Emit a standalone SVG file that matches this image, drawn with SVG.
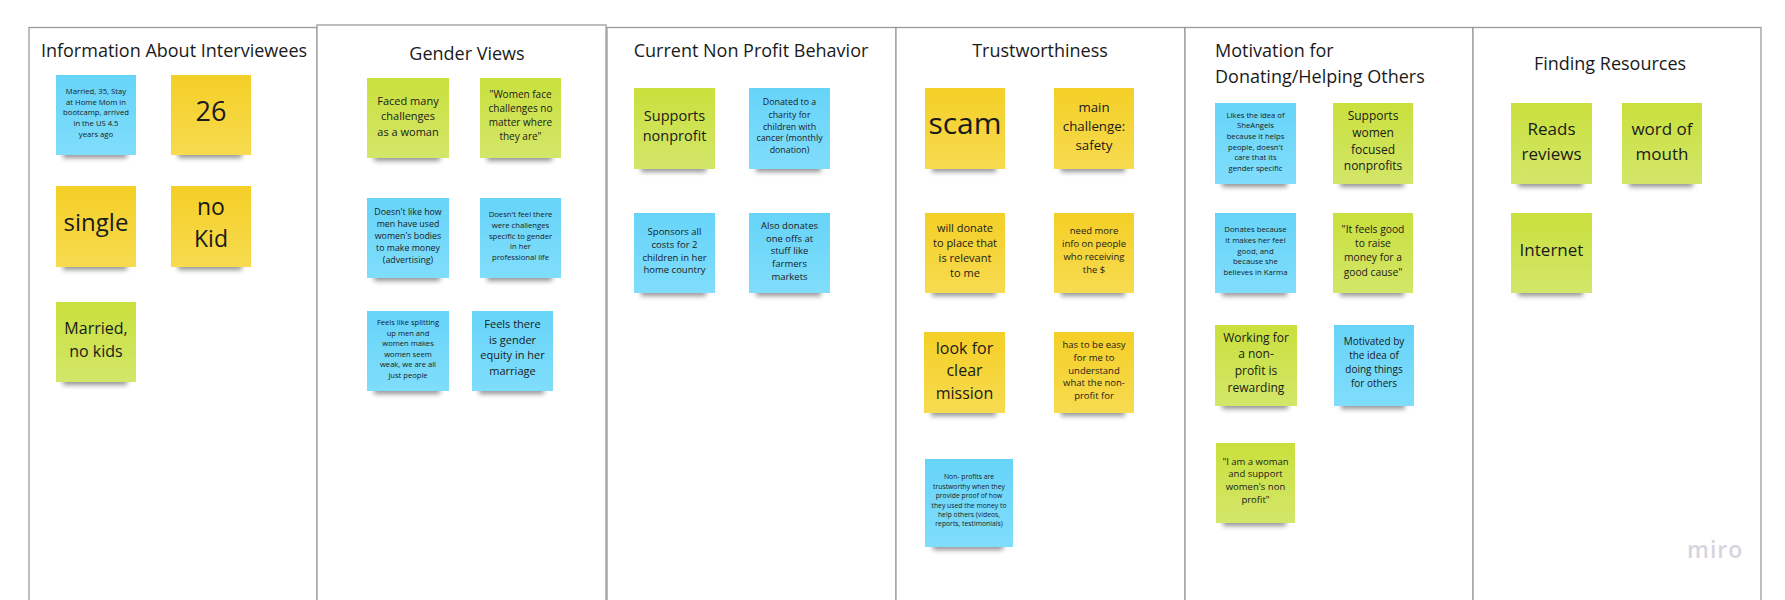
<svg xmlns="http://www.w3.org/2000/svg" width="1785" height="600" viewBox="0 0 1785 600">
  <defs>
    <linearGradient id="g-yellow" x1="0" y1="0" x2="0" y2="1">
      <stop offset="0" stop-color="#f4cf26"/>
      <stop offset="1" stop-color="#f7db50"/>
    </linearGradient>
    <linearGradient id="g-blue" x1="0" y1="0" x2="0" y2="1">
      <stop offset="0" stop-color="#66d4f9"/>
      <stop offset="1" stop-color="#80ddfb"/>
    </linearGradient>
    <linearGradient id="g-green" x1="0" y1="0" x2="0" y2="1">
      <stop offset="0" stop-color="#c9e03c"/>
      <stop offset="1" stop-color="#d3e66a"/>
    </linearGradient>
    <filter id="f-shadow" x="-20%" y="-100%" width="140%" height="300%">
      <feGaussianBlur stdDeviation="2.6"/>
    </filter>
  </defs>
  <style>
    .frame { fill: #ffffff; stroke: #9b9b9b; stroke-width: 1.3; }
    .title { font-family: "Open Sans", "Liberation Sans", sans-serif; font-size: 18px; fill: #1a1a1a; }
    .note text { font-family: "Open Sans", "Liberation Sans", sans-serif; fill: #1a1a1a; text-anchor: middle; }
    .sh { fill: #000000; opacity: 0.42; filter: url(#f-shadow); }
    .yellow { fill: url(#g-yellow); }
    .blue { fill: url(#g-blue); }
    .green { fill: url(#g-green); }
    .logo { font-family: "Open Sans", "Liberation Sans", sans-serif; font-size: 23px; font-weight: 600; fill: #d6d5df; letter-spacing: 1px; }
  </style>

  <rect width="1785" height="600" fill="#ffffff"/>

  <!-- frames -->
  <g id="frames">
    <rect class="frame" x="29" y="27.5" width="288" height="600"/>
    <rect class="frame" x="317" y="25" width="289" height="600"/>
    <rect class="frame" x="607" y="27.5" width="289" height="600"/>
    <rect class="frame" x="896" y="27.5" width="289" height="600"/>
    <rect class="frame" x="1185" y="27.5" width="288" height="600"/>
    <rect class="frame" x="1473" y="27.5" width="288" height="600"/>
  </g>

  <!-- frame titles -->
  <g id="titles">
    <text class="title" x="174" y="57" text-anchor="middle">Information About Interviewees</text>
    <text class="title" x="467" y="60" text-anchor="middle">Gender Views</text>
    <text class="title" x="751" y="57" text-anchor="middle">Current Non Profit Behavior</text>
    <text class="title" x="1040" y="57" text-anchor="middle">Trustworthiness</text>
    <text class="title" x="1215" y="57">Motivation for</text>
    <text class="title" x="1215" y="83">Donating/Helping Others</text>
    <text class="title" x="1610" y="70" text-anchor="middle" font-size="17">Finding Resources</text>
  </g>

  <!-- Information About Interviewees -->
  <g id="note-married-35" class="note" transform="translate(56,75)">
    <rect class="sh" x="7" y="75" width="64" height="8"/>
    <rect class="blue" width="80" height="80"/>
    <text font-size="7.7"><tspan x="40" y="19">Married, 35, Stay</tspan><tspan x="40" y="29.7">at Home Mom in</tspan><tspan x="40" y="40.4">bootcamp, arrived</tspan><tspan x="40" y="51.1">in the US 4.5</tspan><tspan x="40" y="61.8">years ago</tspan></text>
  </g>
  <g id="note-26" class="note" transform="translate(171,75)">
    <rect class="sh" x="7" y="75" width="64" height="8"/>
    <rect class="yellow" width="80" height="80"/>
    <text font-size="27"><tspan x="40" y="45.5">26</tspan></text>
  </g>
  <g id="note-single" class="note" transform="translate(56,186)">
    <rect class="sh" x="7" y="76" width="64" height="8"/>
    <rect class="yellow" width="80" height="81"/>
    <text font-size="24"><tspan x="40" y="44.5">single</tspan></text>
  </g>
  <g id="note-no-kid" class="note" transform="translate(171,186)">
    <rect class="sh" x="7" y="76" width="64" height="8"/>
    <rect class="yellow" width="80" height="81"/>
    <text font-size="23"><tspan x="40" y="29">no</tspan><tspan x="40" y="61.3">Kid</tspan></text>
  </g>
  <g id="note-married-no-kids" class="note" transform="translate(56,302)">
    <rect class="sh" x="7" y="75" width="64" height="8"/>
    <rect class="green" width="80" height="80"/>
    <text font-size="16"><tspan x="40" y="32">Married,</tspan><tspan x="40" y="55">no kids</tspan></text>
  </g>

  <!-- Gender Views -->
  <g id="note-faced-challenges" class="note" transform="translate(367,78)">
    <rect class="sh" x="7" y="75" width="66" height="8"/>
    <rect class="green" width="82" height="80"/>
    <text font-size="11"><tspan x="41" y="26.5">Faced many</tspan><tspan x="41" y="42">challenges</tspan><tspan x="41" y="57.5">as a woman</tspan></text>
  </g>
  <g id="note-women-face" class="note" transform="translate(480,78)">
    <rect class="sh" x="7" y="75" width="65" height="8"/>
    <rect class="green" width="81" height="80"/>
    <text font-size="10"><tspan x="40.5" y="20.3">"Women face</tspan><tspan x="40.5" y="34.3">challenges no</tspan><tspan x="40.5" y="48.3">matter where</tspan><tspan x="40.5" y="62.3">they are"</tspan></text>
  </g>
  <g id="note-bodies" class="note" transform="translate(367,198)">
    <rect class="sh" x="7" y="75" width="66" height="8"/>
    <rect class="blue" width="82" height="80"/>
    <text font-size="8.8"><tspan x="41" y="16.5">Doesn't like how</tspan><tspan x="41" y="28.5">men have used</tspan><tspan x="41" y="40.5">women's bodies</tspan><tspan x="41" y="52.5">to make money</tspan><tspan x="41" y="64.5">(advertising)</tspan></text>
  </g>
  <g id="note-no-gender-challenges" class="note" transform="translate(480,198)">
    <rect class="sh" x="7" y="75" width="65" height="8"/>
    <rect class="blue" width="81" height="80"/>
    <text font-size="7.7"><tspan x="40.5" y="19.3">Doesn't feel there</tspan><tspan x="40.5" y="30">were challenges</tspan><tspan x="40.5" y="40.7">specific to gender</tspan><tspan x="40.5" y="51.4">in her</tspan><tspan x="40.5" y="62.1">professional life</tspan></text>
  </g>
  <g id="note-splitting" class="note" transform="translate(367,311)">
    <rect class="sh" x="7" y="75" width="66" height="8"/>
    <rect class="blue" width="82" height="80"/>
    <text font-size="7.6"><tspan x="41" y="14">Feels like splitting</tspan><tspan x="41" y="24.6">up men and</tspan><tspan x="41" y="35.2">women makes</tspan><tspan x="41" y="45.8">women seem</tspan><tspan x="41" y="56.4">weak, we are all</tspan><tspan x="41" y="67">just people</tspan></text>
  </g>
  <g id="note-gender-equity" class="note" transform="translate(472,311)">
    <rect class="sh" x="7" y="75" width="65" height="8"/>
    <rect class="blue" width="81" height="80"/>
    <text font-size="11"><tspan x="40.5" y="17.3">Feels there</tspan><tspan x="40.5" y="32.8">is gender</tspan><tspan x="40.5" y="48.3">equity in her</tspan><tspan x="40.5" y="63.8">marriage</tspan></text>
  </g>

  <!-- Current Non Profit Behavior -->
  <g id="note-supports-nonprofit" class="note" transform="translate(634,88)">
    <rect class="sh" x="7" y="76" width="65" height="8"/>
    <rect class="green" width="81" height="81"/>
    <text font-size="14.5"><tspan x="40.5" y="33">Supports</tspan><tspan x="40.5" y="53">nonprofit</tspan></text>
  </g>
  <g id="note-donated-charity" class="note" transform="translate(749,88)">
    <rect class="sh" x="7" y="76" width="65" height="8"/>
    <rect class="blue" width="81" height="81"/>
    <text font-size="8.8"><tspan x="40.5" y="17.3">Donated to a</tspan><tspan x="40.5" y="29.5">charity for</tspan><tspan x="40.5" y="41.5">children with</tspan><tspan x="40.5" y="53.3">cancer (monthly</tspan><tspan x="40.5" y="65.3">donation)</tspan></text>
  </g>
  <g id="note-sponsors" class="note" transform="translate(634,213)">
    <rect class="sh" x="7" y="75" width="65" height="8"/>
    <rect class="blue" width="81" height="80"/>
    <text font-size="9.5"><tspan x="40.5" y="21.7">Sponsors all</tspan><tspan x="40.5" y="34.6">costs for 2</tspan><tspan x="40.5" y="47.5">children in her</tspan><tspan x="40.5" y="60.4">home country</tspan></text>
  </g>
  <g id="note-one-offs" class="note" transform="translate(749,213)">
    <rect class="sh" x="7" y="75" width="65" height="8"/>
    <rect class="blue" width="81" height="80"/>
    <text font-size="9.5"><tspan x="40.5" y="15.7">Also donates</tspan><tspan x="40.5" y="28.5">one offs at</tspan><tspan x="40.5" y="41.3">stuff like</tspan><tspan x="40.5" y="54.1">farmers</tspan><tspan x="40.5" y="66.9">markets</tspan></text>
  </g>

  <!-- Trustworthiness -->
  <g id="note-scam" class="note" transform="translate(925,88)">
    <rect class="sh" x="7" y="76" width="64" height="8"/>
    <rect class="yellow" width="80" height="81"/>
    <text font-size="30"><tspan x="40" y="46.3">scam</tspan></text>
  </g>
  <g id="note-safety" class="note" transform="translate(1054,88)">
    <rect class="sh" x="7" y="76" width="64" height="8"/>
    <rect class="yellow" width="80" height="81"/>
    <text font-size="13.3"><tspan x="40" y="23.7">main</tspan><tspan x="40" y="42.7">challenge:</tspan><tspan x="40" y="61.7">safety</tspan></text>
  </g>
  <g id="note-relevant" class="note" transform="translate(925,213)">
    <rect class="sh" x="7" y="75" width="64" height="8"/>
    <rect class="yellow" width="80" height="80"/>
    <text font-size="11"><tspan x="40" y="18.7">will donate</tspan><tspan x="40" y="34">to place that</tspan><tspan x="40" y="49.2">is relevant</tspan><tspan x="40" y="64.4">to me</tspan></text>
  </g>
  <g id="note-more-info" class="note" transform="translate(1054,213)">
    <rect class="sh" x="7" y="75" width="64" height="8"/>
    <rect class="yellow" width="80" height="80"/>
    <text font-size="9.5"><tspan x="40" y="21.3">need more</tspan><tspan x="40" y="34.2">info on people</tspan><tspan x="40" y="47.1">who receiving</tspan><tspan x="40" y="60">the $</tspan></text>
  </g>
  <g id="note-clear-mission" class="note" transform="translate(924,332)">
    <rect class="sh" x="7" y="76" width="65" height="8"/>
    <rect class="yellow" width="81" height="81"/>
    <text font-size="16"><tspan x="40.5" y="22">look for</tspan><tspan x="40.5" y="44.3">clear</tspan><tspan x="40.5" y="66.6">mission</tspan></text>
  </g>
  <g id="note-easy-understand" class="note" transform="translate(1054,332)">
    <rect class="sh" x="7" y="76" width="64" height="8"/>
    <rect class="yellow" width="80" height="81"/>
    <text font-size="9.5"><tspan x="40" y="16">has to be easy</tspan><tspan x="40" y="28.8">for me to</tspan><tspan x="40" y="41.6">understand</tspan><tspan x="40" y="54.4">what the non-</tspan><tspan x="40" y="67.2">profit for</tspan></text>
  </g>
  <g id="note-proof" class="note" transform="translate(925,459)">
    <rect class="sh" x="8" y="83" width="70" height="8"/>
    <rect class="blue" width="88" height="88"/>
    <text font-size="6.8"><tspan x="44" y="20.3">Non- profits are</tspan><tspan x="44" y="29.7">trustworthy when they</tspan><tspan x="44" y="39.1">provide proof of how</tspan><tspan x="44" y="48.5">they used the money to</tspan><tspan x="44" y="57.9">help others (videos,</tspan><tspan x="44" y="67.3">reports, testimonials)</tspan></text>
  </g>

  <!-- Motivation for Donating/Helping Others -->
  <g id="note-sheangels" class="note" transform="translate(1215,103)">
    <rect class="sh" x="7" y="76" width="65" height="8"/>
    <rect class="blue" width="81" height="81"/>
    <text font-size="7.7"><tspan x="40.5" y="14.7">Likes the idea of</tspan><tspan x="40.5" y="25.3">SheAngels</tspan><tspan x="40.5" y="35.9">because it helps</tspan><tspan x="40.5" y="46.5">people, doesn't</tspan><tspan x="40.5" y="57.1">care that its</tspan><tspan x="40.5" y="67.7">gender specific</tspan></text>
  </g>
  <g id="note-women-focused" class="note" transform="translate(1333,103)">
    <rect class="sh" x="7" y="76" width="64" height="8"/>
    <rect class="green" width="80" height="81"/>
    <text font-size="12"><tspan x="40" y="17.3">Supports</tspan><tspan x="40" y="34">women</tspan><tspan x="40" y="50.7">focused</tspan><tspan x="40" y="67.4">nonprofits</tspan></text>
  </g>
  <g id="note-karma" class="note" transform="translate(1215,213)">
    <rect class="sh" x="7" y="75" width="65" height="8"/>
    <rect class="blue" width="81" height="80"/>
    <text font-size="7.8"><tspan x="40.5" y="19.3">Donates because</tspan><tspan x="40.5" y="30">it makes her feel</tspan><tspan x="40.5" y="40.7">good, and</tspan><tspan x="40.5" y="51.4">because she</tspan><tspan x="40.5" y="62.1">believes in Karma</tspan></text>
  </g>
  <g id="note-good-cause" class="note" transform="translate(1333,213)">
    <rect class="sh" x="7" y="75" width="64" height="8"/>
    <rect class="green" width="80" height="80"/>
    <text font-size="10.3"><tspan x="40" y="20">"It feels good</tspan><tspan x="40" y="34.2">to raise</tspan><tspan x="40" y="48.4">money for a</tspan><tspan x="40" y="62.6">good cause"</tspan></text>
  </g>
  <g id="note-rewarding" class="note" transform="translate(1215,325)">
    <rect class="sh" x="7" y="76" width="66" height="8"/>
    <rect class="green" width="82" height="81"/>
    <text font-size="12"><tspan x="41" y="16.7">Working for</tspan><tspan x="41" y="33.4">a non-</tspan><tspan x="41" y="50.1">profit is</tspan><tspan x="41" y="66.8">rewarding</tspan></text>
  </g>
  <g id="note-doing-things" class="note" transform="translate(1334,325)">
    <rect class="sh" x="7" y="76" width="64" height="8"/>
    <rect class="blue" width="80" height="81"/>
    <text font-size="10"><tspan x="40" y="20.3">Motivated by</tspan><tspan x="40" y="34.3">the idea of</tspan><tspan x="40" y="48.3">doing things</tspan><tspan x="40" y="62.3">for others</tspan></text>
  </g>
  <g id="note-i-am-a-woman" class="note" transform="translate(1216,443)">
    <rect class="sh" x="7" y="75" width="63" height="8"/>
    <rect class="green" width="79" height="80"/>
    <text font-size="9.5"><tspan x="39.5" y="21.7">"I am a woman</tspan><tspan x="39.5" y="34.4">and support</tspan><tspan x="39.5" y="47.1">women's non</tspan><tspan x="39.5" y="59.8">profit"</tspan></text>
  </g>

  <!-- Finding Resources -->
  <g id="note-reviews" class="note" transform="translate(1511,103)">
    <rect class="sh" x="7" y="76" width="65" height="8"/>
    <rect class="green" width="81" height="81"/>
    <text font-size="17"><tspan x="40.5" y="32">Reads</tspan><tspan x="40.5" y="57">reviews</tspan></text>
  </g>
  <g id="note-word-of-mouth" class="note" transform="translate(1622,103)">
    <rect class="sh" x="7" y="76" width="64" height="8"/>
    <rect class="green" width="80" height="81"/>
    <text font-size="17"><tspan x="40" y="32">word of</tspan><tspan x="40" y="57">mouth</tspan></text>
  </g>
  <g id="note-internet" class="note" transform="translate(1511,213)">
    <rect class="sh" x="7" y="75" width="65" height="8"/>
    <rect class="green" width="81" height="80"/>
    <text font-size="17"><tspan x="40.5" y="43">Internet</tspan></text>
  </g>

  <!-- board watermark -->
  <text class="logo" x="1687" y="558">miro</text>
</svg>
